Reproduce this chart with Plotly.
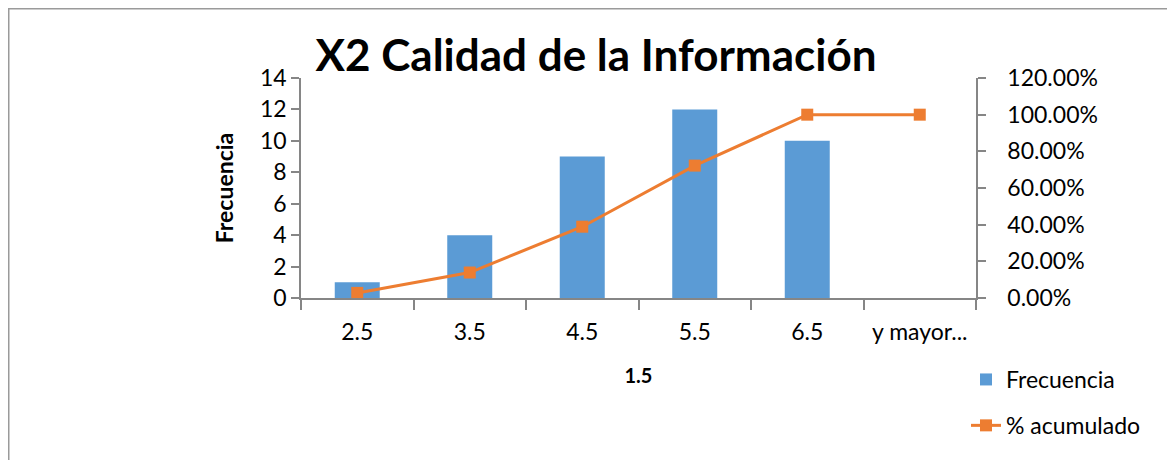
import plotly.graph_objects as go

categories = ["2.5", "3.5", "4.5", "5.5", "6.5", "y mayor..."]
frecuencia = [1, 4, 9, 12, 10, 0]
acumulado = [0.0278, 0.1389, 0.3889, 0.7222, 1.0, 1.0]
y_ticks = [0, 2, 4, 6, 8, 10, 12, 14]
y2_ticks = [0, 0.2, 0.4, 0.6, 0.8, 1.0, 1.2]

FONT = "Lato"
AX = "#868686"

fig = go.Figure()
fig.add_trace(go.Bar(
    x=categories, y=frecuencia, name="Frecuencia",
    marker=dict(color="#5B9BD5", line=dict(width=0)),
    width=0.4, legendgroup="a"))
fig.add_trace(go.Scatter(
    x=categories, y=acumulado, name="% acumulado", yaxis="y2",
    mode="lines+markers",
    line=dict(color="#ED7D31", width=3),
    marker=dict(symbol="square", size=12, color="#ED7D31"),
    legendgroup="b"))

# figure coordinates (page body adds an 8px offset)
W, H = 1167, 452
L, R, T, B = 293, 968, 70, 290
pw, ph = R - L, B - T

fig.update_layout(
    width=W, height=H,
    margin=dict(l=L, r=W - R, t=T, b=H - B, autoexpand=False),
    paper_bgcolor="white", plot_bgcolor="white",
    font=dict(family=FONT, color="black", size=22),
    title=dict(text="<b>X2 Calidad de la Información</b>",
               font=dict(family=FONT, size=44, color="black"),
               xref="container", yref="container",
               x=588 / W, y=1 - 48 / H, xanchor="center", yanchor="middle"),
    xaxis=dict(type="category", range=[-0.5, 5.5], automargin=False,
               showline=True, linecolor=AX, linewidth=1.5,
               ticks="outside", tickson="boundaries", ticklen=10,
               tickcolor=AX, tickwidth=1.5, showgrid=False,
               tickangle=0, tickfont=dict(size=23), ticklabelstandoff=13,
               title=dict(text="<b>1.5</b>", font=dict(size=20), standoff=25)),
    yaxis=dict(range=[0, 14], tickvals=y_ticks, automargin=False,
               showline=True, linecolor=AX, linewidth=1.5,
               ticks="outside", ticklen=8, tickcolor=AX, tickwidth=1.5,
               showgrid=False, zeroline=False,
               tickfont=dict(size=23),
               title=dict(text="<b>Frecuencia</b>", font=dict(size=23), standoff=20)),
    yaxis2=dict(range=[0, 1.2], tickvals=y2_ticks, tickformat=".2%",
                overlaying="y", side="right", automargin=False,
                showline=True, linecolor=AX, linewidth=1.5,
                ticks="outside", ticklen=8, tickcolor=AX, tickwidth=1.5,
                showgrid=False, zeroline=False,
                tickfont=dict(size=23), ticklabelstandoff=17),
    legend=dict(xref="container", yref="container",
                x=958 / W, y=1 - 350 / H, xanchor="left", yanchor="top",
                font=dict(size=23), traceorder="grouped",
                tracegroupgap=13, bgcolor="rgba(0,0,0,0)"),
    shapes=[dict(type="rect", xref="paper", yref="paper",
                 x0=(0.75 - L) / pw, x1=(W + 20 - L) / pw,
                 y0=(B - H - 20) / ph, y1=(B - 0.75) / ph,
                 line=dict(color="#9a9a9a", width=1.5), fillcolor="rgba(0,0,0,0)",
                 layer="below")],
)

fig.write_html("out.html")
